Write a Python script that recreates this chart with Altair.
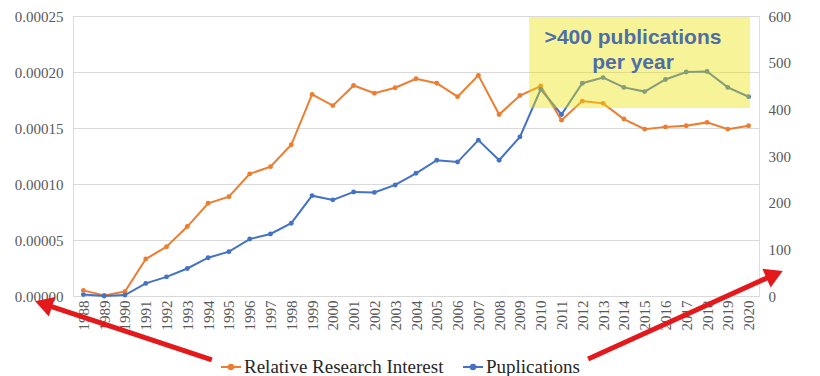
import altair as alt
import pandas as pd

# ---------------- data ----------------
years = list(range(1988, 2021))
relative_interest = [0.000005, 0.0000005, 0.000004, 0.000033, 0.000044, 0.000062, 0.0000828,
                     0.0000887, 0.000109, 0.0001155, 0.000135, 0.00018, 0.00017, 0.000188,
                     0.000181, 0.000186, 0.000194, 0.00019, 0.000178, 0.000197, 0.000162,
                     0.000179, 0.0001875, 0.000157, 0.000174, 0.000172, 0.000158, 0.000149,
                     0.000151, 0.000152, 0.000155, 0.000149, 0.000152]
publications = [3, 0, 2, 27, 41, 59, 82, 95, 122, 133, 156, 215, 206, 223, 222, 238, 263,
                291, 287, 334, 291, 341, 443, 389, 456, 468, 447, 438, 464, 480, 481, 447, 427]

series_names = ["Relative Research Interest", "Puplications"]
series_colors = ["#ED7D31", "#4472C4"]

left_ticks = [0, 0.00005, 0.0001, 0.00015, 0.0002, 0.00025]
right_ticks = [0, 100, 200, 300, 400, 500, 600]

# highlight box (in year / publications units)
box_x = [2009.44]
box_x2 = [2020.07]
box_y = [403]
box_y2 = [598]
box_lines = [">400 publications", "per year"]
box_text_x = [2014.44, 2014.44]
box_text_y = [553, 499]

# red arrows (in year / relative-interest units)
arrow_tail_x = [1994.18, 2012.28]
arrow_tail_y = [-0.0000571, -0.00005625]
arrow_head_x = [1986.22, 2021.12]
arrow_head_y = [-0.00000786, 0.0000181]
arrow_angle = [288, 66]

df = pd.DataFrame({"year": years, "rri": relative_interest, "pubs": publications})
box_df = pd.DataFrame({"x": box_x, "x2": box_x2, "y": box_y, "y2": box_y2})
text_df = pd.DataFrame({"x": box_text_x, "y": box_text_y, "t": box_lines})
arrow_df = pd.DataFrame({"tx": arrow_tail_x, "ty": arrow_tail_y,
                         "hx": arrow_head_x, "hy": arrow_head_y, "angle": arrow_angle})

FONT = "Liberation Serif"
LABEL_COLOR = "#595959"

xscale = alt.Scale(domain=[1987.5, 2020.5], nice=False, zero=False)
lscale = alt.Scale(domain=[0, 0.00025], nice=False, zero=False)
rscale = alt.Scale(domain=[0, 600], nice=False, zero=False)
cscale = alt.Scale(domain=series_names, range=series_colors)

x_axis = alt.Axis(values=years, format="d", labelAngle=-90, title=None, grid=False,
                  domain=False, ticks=False, labelFont=FONT, labelFontSize=15,
                  labelColor=LABEL_COLOR, labelPadding=4)
left_axis = alt.Axis(values=left_ticks, format=".5f", orient="left", title=None, grid=True,
                     gridColor="#d9d9d9", domain=False, ticks=False, labelFont=FONT,
                     labelFontSize=15, labelColor=LABEL_COLOR, labelPadding=10)
right_axis = alt.Axis(values=right_ticks, format="d", orient="right", title=None, grid=False,
                      domain=False, ticks=False, labelFont=FONT, labelFontSize=15,
                      labelColor=LABEL_COLOR, labelPadding=9)

legend_symbol = "M-1,0L1,0M-0.22,0A0.22,0.22,0,1,0,0.22,0A0.22,0.22,0,1,0,-0.22,0Z"
legend = alt.Legend(orient="none", legendX=147, legendY=340, direction="horizontal",
                    title=None, symbolType=legend_symbol, symbolSize=400, symbolStrokeWidth=2,
                    labelFont=FONT, labelFontSize=19, labelColor="#262626", labelLimit=0,
                    labelOffset=2, columnPadding=15, padding=0)

orange_base = alt.Chart(df).transform_calculate(series="'" + series_names[0] + "'")
blue_base = alt.Chart(df).transform_calculate(series="'" + series_names[1] + "'")


def X(field):
    return alt.X(field, type="quantitative", scale=xscale, axis=x_axis)


def YL(field):
    return alt.Y(field, type="quantitative", scale=lscale, axis=left_axis)


def YR(field):
    return alt.Y(field, type="quantitative", scale=rscale, axis=right_axis)


orange_line = orange_base.mark_line(strokeWidth=2).encode(
    x=X("year"), y=YL("rri"),
    color=alt.Color("series:N", scale=cscale, legend=legend),
)
orange_pts = orange_base.mark_circle(size=24, opacity=1).encode(
    x=X("year"), y=YL("rri"),
    color=alt.Color("series:N", scale=cscale, legend=legend),
)
arrow_shaft = alt.Chart(arrow_df).mark_rule(color="#E3191C", strokeWidth=5).encode(
    x=X("tx"), y=YL("ty"), x2="hx:Q", y2="hy:Q",
)
arrow_head = alt.Chart(arrow_df).mark_point(shape="triangle", filled=True, color="#E3191C",
                                             size=420, opacity=1).encode(
    x=X("hx"), y=YL("hy"),
    angle=alt.Angle("angle:Q", scale=None),
)

left = alt.layer(orange_line, orange_pts, arrow_shaft, arrow_head)

blue_line = blue_base.mark_line(strokeWidth=2).encode(
    x=X("year"), y=YR("pubs"),
    color=alt.Color("series:N", scale=cscale, legend=legend),
)
blue_pts = blue_base.mark_circle(size=24, opacity=1).encode(
    x=X("year"), y=YR("pubs"),
    color=alt.Color("series:N", scale=cscale, legend=legend),
)
box = alt.Chart(box_df).mark_rect(color="#EBE100", opacity=0.4).encode(
    x=X("x"), x2="x2:Q", y=YR("y"), y2="y2:Q",
)
box_text = alt.Chart(text_df).mark_text(font="Liberation Sans", fontWeight="bold", fontSize=21,
                                         color="#4F6EA6", align="center",
                                         baseline="middle").encode(
    x=X("x"), y=YR("y"), text="t:N",
)

right = alt.layer(blue_line, blue_pts, box, box_text)

chart = alt.layer(left, right).resolve_scale(y="independent").properties(
    width=686, height=280,
    padding={"left": 65, "top": 8, "right": 45, "bottom": 80},
    autosize=alt.AutoSizeParams(type="none"),
).configure_view(strokeWidth=0).configure(background="white")

chart.save("out.html", embed_options={"renderer": "svg", "actions": False})
